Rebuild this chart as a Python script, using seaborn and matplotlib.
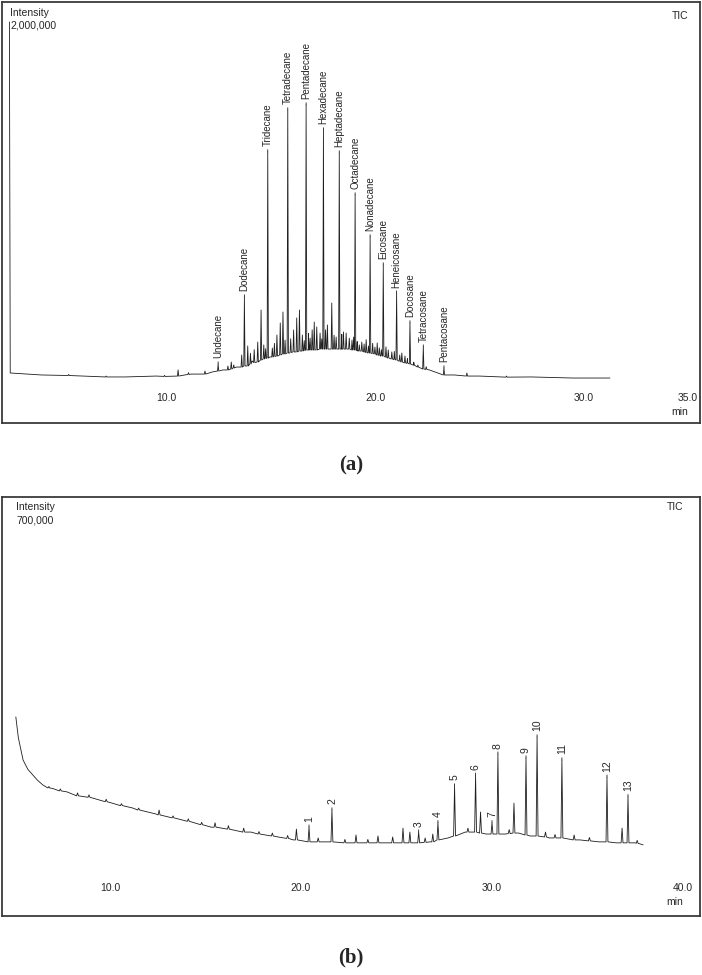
"""Two GC-MS total ion chromatograms, (a) and (b), stacked."""

import matplotlib

matplotlib.use("Agg")
import matplotlib.pyplot as plt
import numpy as np
import pandas as pd
import seaborn as sns

# ---- panel (a): baseline knots (retention time, intensity) ----
A_BASE_T = [2.46, 2.50, 4.0, 6.0, 8.0, 9.5, 11.2, 12.2, 12.7, 13.35, 14.1, 14.95,
            15.9, 16.8, 17.8, 18.4, 19.15, 19.65, 20.25, 20.9, 21.55, 21.85,
            22.6, 23.0, 23.8, 25.0, 27.5, 29.5, 31.26]
A_BASE_I = [2000000, 50000, 39000, 33000, 28000, 33000, 44000, 56000, 67000, 83000,
            117000, 139000, 161000, 178000, 183000, 183000, 172000, 161000, 144000,
            128000, 111000, 94000, 67000, 50000, 39000, 33000, 28000, 22000, 22000]

# labelled n-alkane peaks
A_NAMES = ["Undecane", "Dodecane", "Tridecane", "Tetradecane", "Pentadecane",
           "Hexadecane", "Heptadecane", "Octadecane", "Nonadecane", "Eicosane",
           "Heneicosane", "Docosane", "Tetracosane", "Pentacosane"]
A_PEAK_T = [12.47, 13.73, 14.85, 15.81, 16.69, 17.52, 18.28, 19.04, 19.76, 20.39,
            21.03, 21.67, 22.31, 23.30]
A_PEAK_I = [100000, 472000, 1278000, 1511000, 1539000, 1400000, 1272000, 1039000,
            806000, 650000, 494000, 328000, 194000, 78000]
A_PEAK_FOOT = [61000, 89000, 133000, 161000, 178000, 183000, 183000, 178000,
               161000, 144000, 122000, 100000, 72000, 39000]

# unlabelled small peaks
A_MINOR_T = [5.3, 7.1, 9.9, 10.55, 11.05, 11.84, 12.94, 13.10, 13.22, 13.60, 13.89,
             14.02, 14.20, 14.37, 14.53, 14.66, 14.75, 15.07, 15.17, 15.29, 15.45,
             15.58, 15.68, 15.95, 16.09, 16.24, 16.37, 16.51, 16.60, 16.80, 16.88,
             16.98, 17.08, 17.20, 17.36, 17.44, 17.62, 17.71, 17.92, 18.03, 18.13,
             18.40, 18.48, 18.61, 18.76, 18.89, 18.97, 19.14, 19.24, 19.36, 19.47,
             19.57, 19.68, 19.88, 19.99, 20.10, 20.20, 20.30, 20.52, 20.63, 20.80,
             20.92, 21.18, 21.28, 21.43, 21.55, 21.85, 22.05, 22.45, 24.40, 26.3]
A_MINOR_I = [42000, 33000, 37000, 67000, 52000, 61000, 89000, 111000, 95000,
             150000, 200000, 160000, 180000, 222000, 400000, 206000, 185000,
             189000, 215000, 261000, 328000, 389000, 233000, 240000, 289000,
             356000, 400000, 261000, 230000, 270000, 244000, 290000, 333000,
             306000, 272000, 240000, 290000, 317000, 439000, 260000, 250000,
             265000, 278000, 272000, 244000, 233000, 250000, 225000, 206000,
             222000, 211000, 235000, 200000, 215000, 194000, 217000, 190000,
             180000, 195000, 178000, 167000, 170000, 150000, 161000, 144000,
             130000, 110000, 94000, 85000, 50000, 33000]
A_MINOR_FOOT = [36000, 28000, 31000, 33000, 42000, 44000, 67000, 72000, 78000,
                83000, 89000, 100000, 108000, 111000, 122000, 128000, 131000,
                139000, 142000, 144000, 150000, 156000, 156000, 164000, 167000,
                167000, 172000, 172000, 175000, 178000, 178000, 178000, 178000,
                178000, 183000, 183000, 183000, 183000, 183000, 183000, 183000,
                183000, 183000, 183000, 183000, 178000, 178000, 175000, 172000,
                172000, 167000, 164000, 161000, 158000, 156000, 150000, 148000,
                145000, 138000, 133000, 128000, 125000, 115000, 111000, 106000,
                104000, 94000, 83000, 70000, 33000, 27000]

# ---- panel (b) ----
B_BASE_T = [5.07, 5.2, 5.45, 5.7, 5.97, 6.2, 6.49, 7.0, 7.75, 9.48, 11.2, 12.4,
            15.3, 17.38, 18.8, 19.6, 20.7, 22.98, 25.1, 26.75, 27.7, 28.6, 29.7,
            30.7, 31.4, 32.0, 33.0, 34.6, 35.6, 36.5, 37.5, 37.91]
B_BASE_I = [292000, 250000, 204000, 185000, 173000, 163000, 153000, 146000, 139000,
            122000, 106000, 94000, 67000, 57000, 47000, 41000, 37000, 35000, 35000,
            37000, 45000, 57000, 53000, 53000, 55000, 49000, 45000, 41000, 37000,
            35000, 35000, 31000]

B_LABELS = ["1", "2", "3", "4", "5", "6", "7", "8", "9", "10", "11", "12", "13"]
B_PEAK_T = [20.42, 21.62, 26.16, 27.17, 28.04, 29.14, 30.00, 30.31, 31.78, 32.36,
            33.66, 36.02, 37.12]
B_PEAK_I = [67000, 102000, 57000, 76000, 151000, 173000, 76000, 216000, 208000,
            251000, 204000, 169000, 129000]
B_PEAK_FOOT = [37000, 37000, 35000, 41000, 49000, 57000, 53000, 53000, 51000,
               49000, 45000, 37000, 35000]

B_MINOR_T = [6.8, 7.4, 8.3, 8.9, 9.8, 10.6, 11.5, 12.57, 13.3, 14.1, 14.8, 15.5,
             16.2, 17.0, 17.8, 18.5, 19.3, 19.76, 20.9, 22.3, 22.88, 23.5, 24.03,
             24.8, 25.34, 25.7, 26.5, 26.9, 28.74, 29.40, 30.9, 31.15, 32.8, 33.3,
             34.3, 35.1, 36.81, 37.6]
B_MINOR_I = [150000, 145000, 137000, 133000, 124000, 115000, 106000, 102000,
             90000, 84000, 77000, 76000, 70000, 65000, 58000, 55000, 50000, 63000,
             45000, 42000, 51000, 42000, 49000, 47000, 65000, 57000, 45000, 53000,
             65000, 98000, 62000, 116000, 57000, 52000, 51000, 46000, 65000, 40000]
B_MINOR_FOOT = [147000, 141000, 131000, 128000, 119000, 111000, 102000, 92000,
                86000, 79000, 72000, 67000, 63000, 57000, 53000, 49000, 44000,
                41000, 37000, 35000, 35000, 35000, 35000, 35000, 35000, 35000,
                36000, 37000, 57000, 55000, 54000, 55000, 47000, 45000, 41000,
                39000, 35000, 34000]


def _trace(base_t, base_i, peak_t, peak_i, peak_foot, half_width):
    rows = list(zip(base_t, base_i))
    for t, top, foot in zip(peak_t, peak_i, peak_foot):
        rows += [(t - half_width, foot), (t, top), (t + half_width, foot)]
    df = pd.DataFrame(rows, columns=["t", "intensity"])
    return df.sort_values("t").reset_index(drop=True)


def _panel(ax, trace, xlim, ylim, ticks, full_scale, pad, text_pos):
    sns.lineplot(data=trace, x="t", y="intensity", estimator=None, sort=False,
                 color="#1e1e1e", lw=0.6, ax=ax)
    ax.set_xlim(*xlim)
    ax.set_ylim(*ylim)
    ax.set_xticks(ticks)
    ax.set_xticklabels([f"{v:.1f}" for v in ticks], fontsize=7.5)
    ax.set_yticks([])
    ax.tick_params(axis="x", length=0, pad=pad)
    ax.set_xlabel("")
    ax.set_ylabel("")
    for sp in ax.spines.values():
        sp.set_visible(True)
        sp.set_color("#3a3a3a")
        sp.set_linewidth(1.3)

    ix, iy1, iy2, tx, ty, mx, my = text_pos
    ax.text(ix, iy1, "Intensity", transform=ax.transAxes, fontsize=7.5, va="center")
    ax.text(ix, iy2, full_scale, transform=ax.transAxes, fontsize=7.5, va="center")
    ax.text(tx, ty, "TIC", transform=ax.transAxes, fontsize=7.5, ha="right", va="center")
    ax.text(mx, my, "min", transform=ax.transAxes, fontsize=7.5, ha="center", va="center")


def _label_peaks(ax, names, peak_t, peak_i, size):
    for name, t, top in zip(names, peak_t, peak_i):
        ax.annotate(name, xy=(t, top), xytext=(0, 4), textcoords="offset points",
                    rotation=90, ha="center", va="bottom", fontsize=size,
                    arrowprops=dict(arrowstyle="-", lw=0.6, color="#1e1e1e",
                                    shrinkA=0, shrinkB=0))


def main() -> None:
    sns.set_style("white")
    plt.rcParams["font.family"] = ["Liberation Sans", "DejaVu Sans"]

    fig = plt.figure(figsize=(7.02, 9.75), dpi=100)
    W, H = 702.0, 975.0

    ax_a = fig.add_axes([2 / W, 1 - 423 / H, 698 / W, 421 / H])
    ax_b = fig.add_axes([2 / W, 1 - 916 / H, 698 / W, 419 / H])

    trace_a = _trace(A_BASE_T, A_BASE_I,
                     A_PEAK_T + A_MINOR_T, A_PEAK_I + A_MINOR_I,
                     A_PEAK_FOOT + A_MINOR_FOOT, 0.03)
    _panel(ax_a, trace_a, (2.105, 35.58), (-227800, 2111000), [10, 20, 30, 35],
           "2,000,000", -21.6,
           (0.0115, 0.974, 0.943, 0.983, 0.967, 0.971, 0.026))
    _label_peaks(ax_a, A_NAMES, A_PEAK_T, A_PEAK_I, 7)

    trace_b = _trace(B_BASE_T, B_BASE_I,
                     B_PEAK_T + B_MINOR_T, B_PEAK_I + B_MINOR_I,
                     B_PEAK_FOOT + B_MINOR_FOOT, 0.05)
    _panel(ax_b, trace_b, (4.346, 40.89), (-114300, 740900), [10, 20, 30, 40],
           "700,000", -23.8,
           (0.020, 0.976, 0.945, 0.976, 0.976, 0.963, 0.033))
    _label_peaks(ax_b, B_LABELS, B_PEAK_T, B_PEAK_I, 7.5)

    fig.text(351 / W, 1 - 465 / H, "(a)", ha="center", va="center", fontsize=15,
             fontweight="bold", family="Liberation Serif")
    fig.text(351 / W, 1 - 957 / H, "(b)", ha="center", va="center", fontsize=15,
             fontweight="bold", family="Liberation Serif")

    fig.savefig("out.png", dpi=100)
    plt.close(fig)


if __name__ == "__main__":
    main()
